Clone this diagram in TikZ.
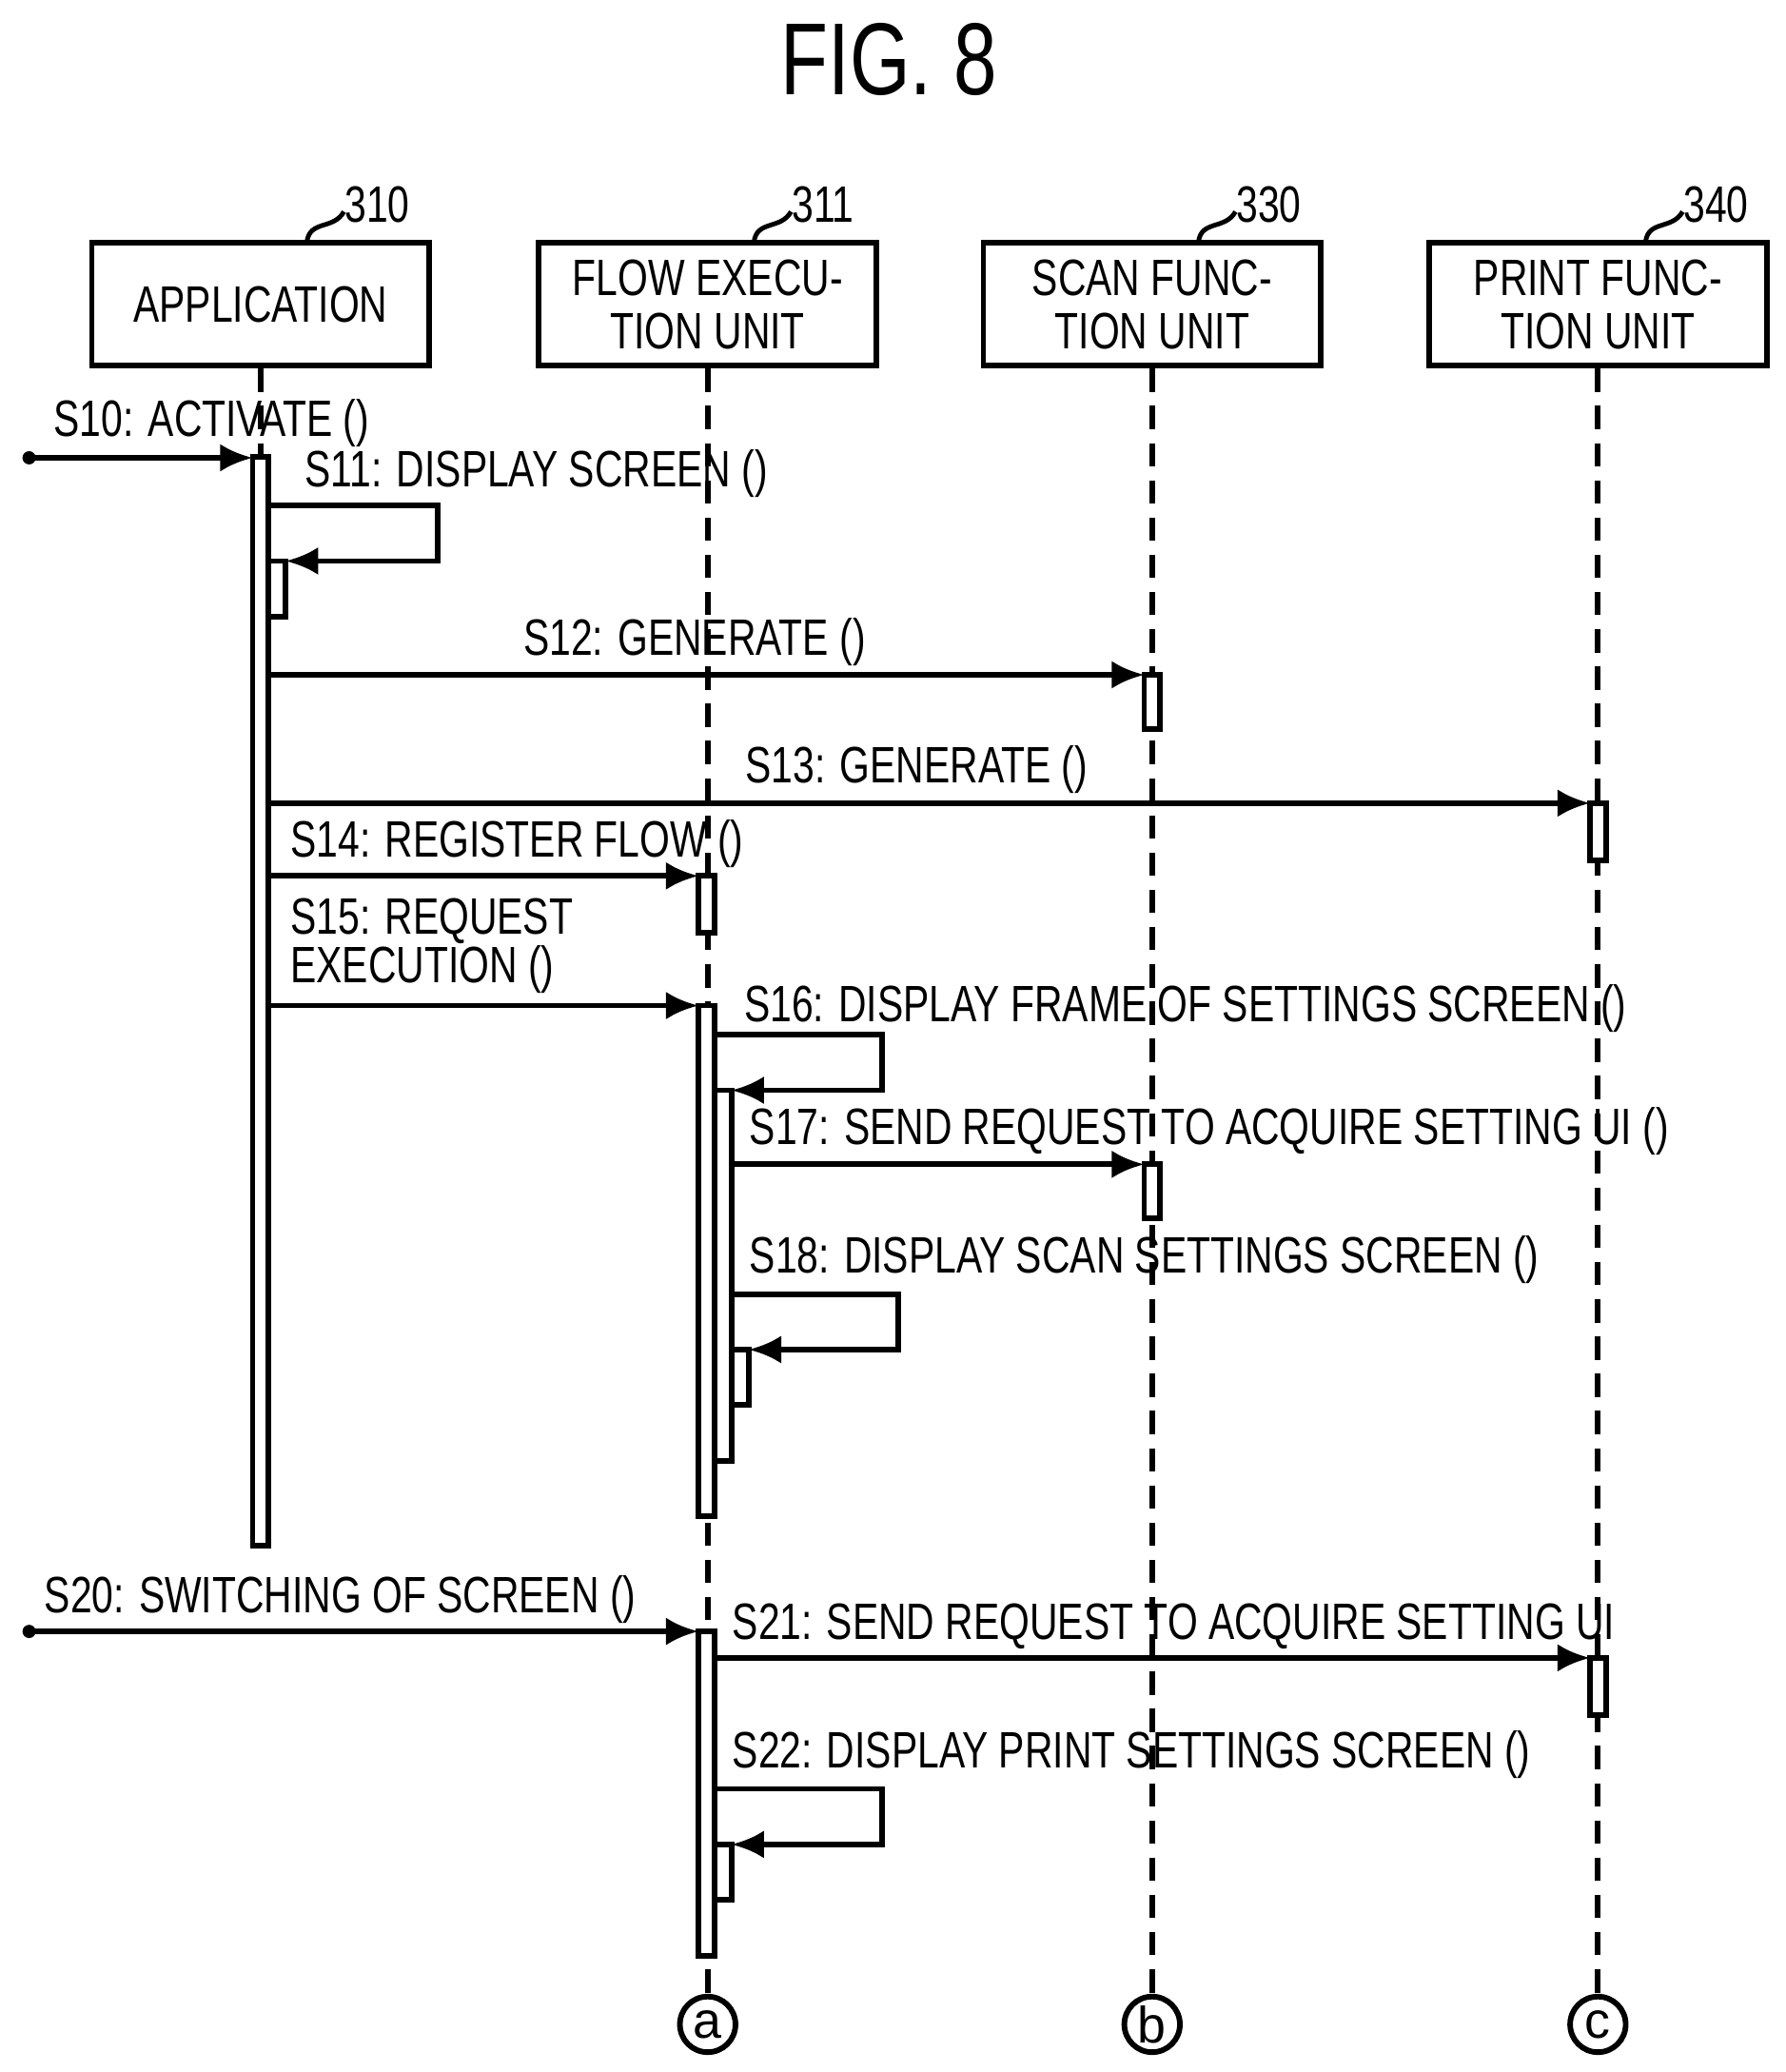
\documentclass[tikz,border=0pt]{standalone}
\usepackage{fontspec}
\setmainfont{Liberation Sans}
\usetikzlibrary{arrows.meta}
\newcommand{\lbl}[1]{\scalebox{0.76}[1]{#1}}
\tikzset{
	unit/.style={draw,line width=1.2pt,minimum width=2.55cm,minimum height=0.93cm,align=center,font=\fontsize{11}{11.5}\selectfont,inner sep=0pt},
	life/.style={line width=1.2pt,dash pattern=on 5pt off 3pt},
	msg/.style={line width=1.2pt,-{Latex[length=7pt,width=6pt]}},
	act/.style={draw,line width=1.2pt,fill=white},
	txt/.style={anchor=base west,font=\fontsize{11}{13}\selectfont,inner sep=0pt},
	ref/.style={anchor=base west,font=\fontsize{11}{13}\selectfont,inner sep=0pt},
	term/.style={circle,draw,line width=1.2pt,minimum size=0.42cm,inner sep=0pt,font=\fontsize{11}{11}\selectfont}
}
\begin{document}
\begin{tikzpicture}[x=0.01cm,y=-0.01cm]
\useasboundingbox (0,0) rectangle (1350,1566);
\node[font=\fontsize{22}{22}\selectfont] (title) at (672,45) {\lbl{FIG. 8}};
% objects
\node[unit] (app) at (197,230) {\lbl{APPLICATION}};
\node[unit] (flow) at (535,230) {\lbl{FLOW EXECU-}\\\lbl{TION UNIT}};
\node[unit] (scan) at (871,230) {\lbl{SCAN FUNC-}\\\lbl{TION UNIT}};
\node[unit] (print) at (1208,230) {\lbl{PRINT FUNC-}\\\lbl{TION UNIT}};
\foreach \n/\x/\r in {app/232/310,flow/570/311,scan/906/330,print/1244/340} {
	\draw[line width=1pt] (\x,183) .. controls (\x+2,166) and (\x+20,174) .. (\x+28,160);
	\node[ref] (r\r) at (\x+28,168) {\lbl{\r}};
}
\node[term] (ca) at (535,1530) {a};
\node[term] (cb) at (871,1530) {b};
\node[term] (cc) at (1208,1530) {c};
\draw[life] (app.south) -- (197,1168);
\draw[life] (flow.south) -- (ca.north);
\draw[life] (scan.south) -- (cb.north);
\draw[life] (print.south) -- (cc.north);
% activation bars
\draw[act] (191,345) rectangle (203,1168);
\draw[act] (203,424) rectangle (216,466);
\draw[act] (865,510) rectangle (877,551);
\draw[act] (1202,607) rectangle (1214,650);
\draw[act] (528,662) rectangle (540,705);
\draw[act] (528,760) rectangle (540,1146);
\draw[act] (540,824) rectangle (553,1104);
\draw[act] (865,880) rectangle (877,921);
\draw[act] (553,1020) rectangle (566,1062);
\draw[act] (528,1233) rectangle (540,1478);
\draw[act] (1202,1253) rectangle (1214,1296);
\draw[act] (540,1394) rectangle (553,1436);
% messages
\fill (22,346) circle (5);
\draw[msg] (22,346) -- (191,346);
\node[txt] at (40,330) {\lbl{S10: ACTIVATE ()}};
\draw[msg] (203,382) -- (331,382) -- (331,424) -- (216,424);
\node[txt] at (230,368) {\lbl{S11: DISPLAY SCREEN ()}};
\draw[msg] (203,510) -- (865,510);
\node[txt] at (395,495) {\lbl{S12: GENERATE ()}};
\draw[msg] (203,607) -- (1202,607);
\node[txt] at (563,592) {\lbl{S13: GENERATE ()}};
\draw[msg] (203,662) -- (528,662);
\node[txt] at (219,648) {\lbl{S14: REGISTER FLOW ()}};
\draw[msg] (203,760) -- (528,760);
\node[txt] at (219,706) {\lbl{S15: REQUEST}};
\node[txt] at (219,743) {\lbl{EXECUTION ()}};
\draw[msg] (540,782) -- (667,782) -- (667,824) -- (553,824);
\node[txt] at (562,772) {\lbl{S16: DISPLAY FRAME OF SETTINGS SCREEN ()}};
\draw[msg] (553,880) -- (865,880);
\node[txt] at (566,865) {\lbl{S17: SEND REQUEST TO ACQUIRE SETTING UI ()}};
\draw[msg] (553,978) -- (679,978) -- (679,1020) -- (566,1020);
\node[txt] at (566,962) {\lbl{S18: DISPLAY SCAN SETTINGS SCREEN ()}};
\fill (22,1233) circle (5);
\draw[msg] (22,1233) -- (528,1233);
\node[txt] at (33,1219) {\lbl{S20: SWITCHING OF SCREEN ()}};
\draw[msg] (540,1253) -- (1202,1253);
\node[txt] at (553,1239) {\lbl{S21: SEND REQUEST TO ACQUIRE SETTING UI}};
\draw[msg] (540,1352) -- (667,1352) -- (667,1394) -- (553,1394);
\node[txt] at (553,1336) {\lbl{S22: DISPLAY PRINT SETTINGS SCREEN ()}};
\end{tikzpicture}
\end{document}
